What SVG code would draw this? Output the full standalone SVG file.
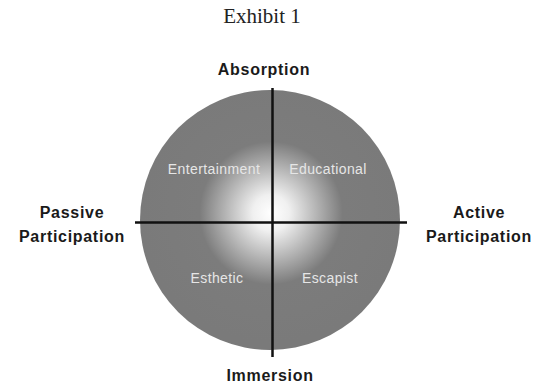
<svg xmlns="http://www.w3.org/2000/svg" width="541" height="388" viewBox="0 0 541 388">
<style>
.axis{font-family:"Liberation Sans",Arial,sans-serif;font-weight:bold;font-size:16px;letter-spacing:0.7px;fill:#1a1a1a;text-anchor:middle}
.quad{font-family:"Liberation Sans",Arial,sans-serif;font-size:14px;letter-spacing:0.4px;fill:#e6e6e6;text-anchor:middle}
.line{stroke:#111;stroke-width:2.5;fill:none}
</style>
<defs>
<radialGradient id="glow" gradientUnits="userSpaceOnUse" cx="271" cy="213" r="130">
<stop offset="0" stop-color="#ffffff"/>
<stop offset="0.14" stop-color="#f0f0f0"/>
<stop offset="0.55" stop-color="#7c7c7c"/>
<stop offset="1" stop-color="#7a7a7a"/>
</radialGradient>
</defs>
<rect width="541" height="388" fill="#ffffff"/>
<text x="262" y="23" font-family="'Liberation Serif','Times New Roman',serif" font-size="21" fill="#222" text-anchor="middle">Exhibit 1</text>
<g id="circle">
<circle cx="270" cy="220" r="130" fill="url(#glow)"/>
</g>
<g id="connectors">
<line class="line" x1="272.5" y1="88" x2="272.5" y2="357"/>
<line class="line" x1="135" y1="222.5" x2="407" y2="222.5"/>
</g>
<g id="absorption"><text class="axis" x="264" y="75">Absorption</text></g>
<g id="immersion"><text class="axis" x="270" y="381">Immersion</text></g>
<g id="passive"><text class="axis" x="72" y="218">Passive</text><text class="axis" x="72" y="242">Participation</text></g>
<g id="active"><text class="axis" x="479" y="218">Active</text><text class="axis" x="479" y="242">Participation</text></g>
<g id="entertainment"><text class="quad" x="214" y="174">Entertainment</text></g>
<g id="educational"><text class="quad" x="328" y="174">Educational</text></g>
<g id="esthetic"><text class="quad" x="217" y="283">Esthetic</text></g>
<g id="escapist"><text class="quad" x="330" y="283">Escapist</text></g>
</svg>
